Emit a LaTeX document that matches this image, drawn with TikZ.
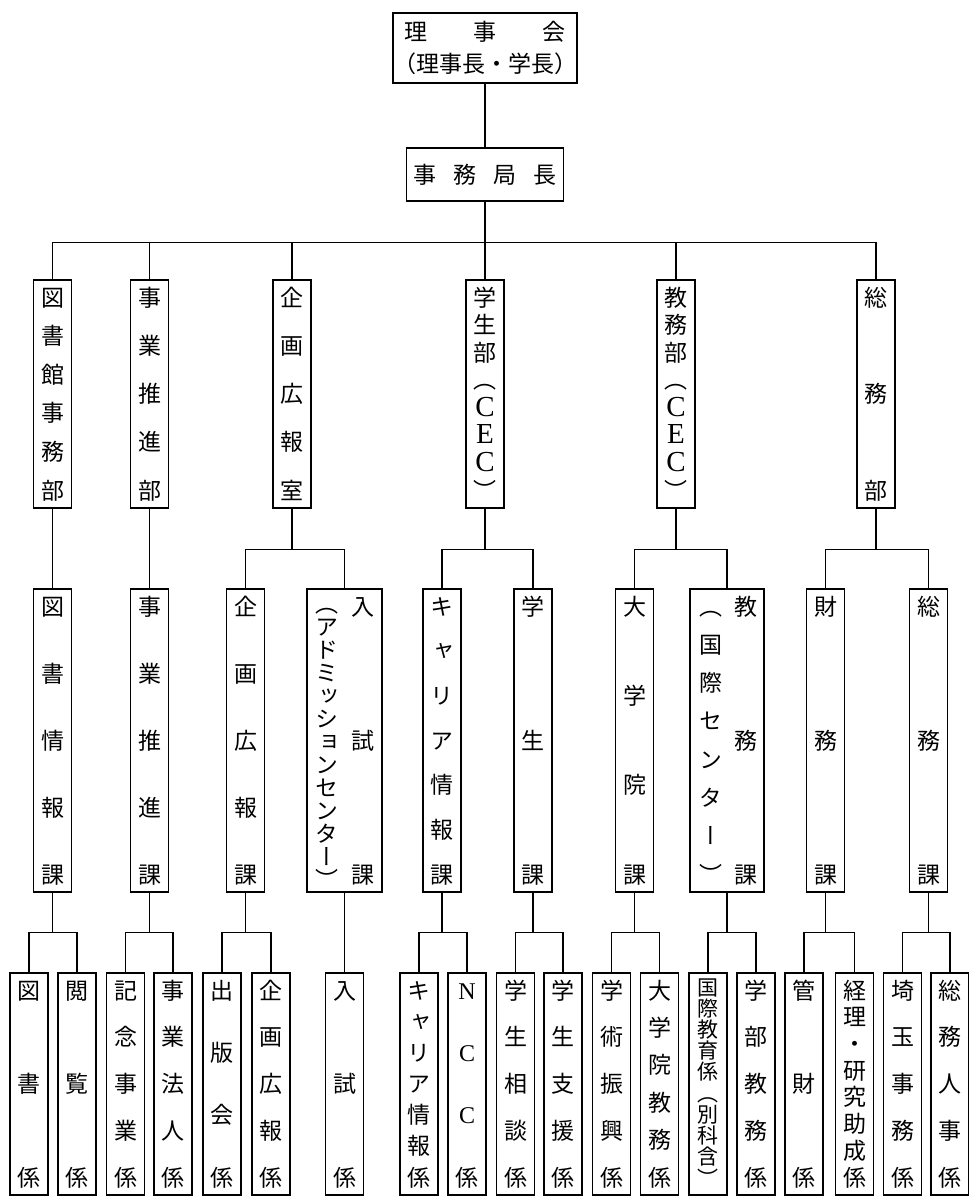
\documentclass[tikz,border=0pt]{standalone}
\usepackage{fontspec}
\newfontfamily\jpv[RawFeature=+vert]{Noto Sans CJK JP}
\newfontfamily\jph{Noto Sans CJK JP}
\newfontfamily\lat{Liberation Serif}
\newcommand\LA[1]{{\lat\fontsize{29}{29}\selectfont #1}}
\newcommand\LB[1]{{\lat\fontsize{24}{24}\selectfont #1}}
\newcommand\vcol[3][20pt]{\vbox to \dimexpr#2-3pt\relax{\foreach[count=\ii] \cc in {#3}{\ifnum\ii>1 \vfill\fi\hbox to 23pt{\vrule height #1 depth 3pt width 0pt\hss\smash{\cc}\hss}}}}
\tikzset{
  bx/.style={draw, line width=1.5pt, inner sep=0pt, rectangle, font=\jpv\fontsize{23}{23}\selectfont},
  rowa/.style={bx, minimum width=38pt, minimum height=228pt},
  rowb/.style={bx, minimum width=38pt, minimum height=303pt},
  rowc/.style={bx, minimum width=38pt, minimum height=222pt},
  conn/.style={line width=1.5pt}
}
\begin{document}
\begin{tikzpicture}[x=1pt,y=-1pt]
\useasboundingbox (0,0) rectangle (969,1200);
% top
\node[bx, minimum width=183pt, minimum height=70pt, align=center, font=\jph\fontsize{23}{32}\selectfont] (rij) at (485,48) {\hbox to 162pt{理\hfill 事\hfill 会}\\（理事長・学長）};
\node[bx, minimum width=157pt, minimum height=53pt, font=\jph\fontsize{23}{23}\selectfont] (jim) at (485,174.5) {\hbox to 144pt{事\hfill 務\hfill 局\hfill 長}};
% row 1
\node[rowa] (lib) at (52.5,394) {\vcol{216pt}{図,書,館,事,務,部}};
\node[rowa] (jig) at (149.5,394) {\vcol{216pt}{事,業,推,進,部}};
\node[rowa] (kik) at (292,394) {\vcol{216pt}{企,画,広,報,室}};
\node[rowa] (gak) at (485,394) {\vcol{216pt}{学,生,部,（,\LA{C},\LA{E},\LA{C},）}};
\node[rowa] (kyo) at (676,394) {\vcol{216pt}{教,務,部,（,\LA{C},\LA{E},\LA{C},）}};
\node[rowa] (som) at (876,394) {\vcol{216pt}{総,務,部}};
% row 2
\node[rowb] (lib2) at (52.5,740.5) {\vcol{291pt}{図,書,情,報,課}};
\node[rowb] (jig2) at (149.5,740.5) {\vcol{291pt}{事,業,推,進,課}};
\node[rowb] (kik2) at (245.5,740.5) {\vcol{291pt}{企,画,広,報,課}};
\node[rowb, minimum width=75pt] (nyu) at (344.5,740.5) {\hbox{\vcol[17pt]{291pt}{（,ア,ド,ミ,ッ,シ,ョ,ン,セ,ン,タ,ー,）}\hskip13pt\vcol{291pt}{入,試,課}}};
\node[rowb] (car2) at (442,740.5) {\vcol{291pt}{キ,ャ,リ,ア,情,報,課}};
\node[rowb] (gak2) at (533,740.5) {\vcol{291pt}{学,生,課}};
\node[rowb] (dai2) at (634.5,740.5) {\vcol{291pt}{大,学,院,課}};
\node[rowb, minimum width=74pt] (kyo2) at (727,740.5) {\hbox{\hskip3pt\vcol{291pt}{（,国,際,セ,ン,タ,ー,）}\hskip12pt\vcol{291pt}{教,務,課}}};
\node[rowb] (zai2) at (825.5,740.5) {\vcol{291pt}{財,務,課}};
\node[rowb] (som2) at (928.5,740.5) {\vcol{291pt}{総,務,課}};
% row 3
\node[rowc] (tos) at (29,1084) {\vcol{210pt}{図,書,係}};
\node[rowc] (etsu) at (77,1084) {\vcol{210pt}{閲,覧,係}};
\node[rowc] (kinen) at (125.5,1084) {\vcol{210pt}{記,念,事,業,係}};
\node[rowc] (hojin) at (173,1084) {\vcol{210pt}{事,業,法,人,係}};
\node[rowc] (shup) at (222,1084) {\vcol{210pt}{出,版,会,係}};
\node[rowc] (kikg) at (271,1084) {\vcol{210pt}{企,画,広,報,係}};
\node[rowc] (nyug) at (344.5,1084) {\vcol{210pt}{入,試,係}};
\node[rowc] (carg) at (419,1084) {\vcol{210pt}{キ,ャ,リ,ア,情,報,係}};
\node[rowc] (ncc) at (467,1084) {\vcol{210pt}{\LB{N},\LB{C},\LB{C},係}};
\node[rowc] (sodan) at (515.5,1084) {\vcol{210pt}{学,生,相,談,係}};
\node[rowc] (shien) at (563,1084) {\vcol{210pt}{学,生,支,援,係}};
\node[rowc] (gaku) at (611.5,1084) {\vcol{210pt}{学,術,振,興,係}};
\node[rowc] (daig) at (659.5,1084) {\vcol{210pt}{大,学,院,教,務,係}};
\node[rowc, font=\jpv\fontsize{21}{21}\selectfont] (koku) at (708,1084) {\vcol[16pt]{210pt}{国,際,教,育,係,（,別,科,含,）}};
\node[rowc] (gakub) at (756,1084) {\vcol{210pt}{学,部,教,務,係}};
\node[rowc] (kanz) at (804,1084) {\vcol{210pt}{管,財,係}};
\node[rowc] (keiri) at (854.5,1084) {\vcol{210pt}{経,理,・,研,究,助,成,係}};
\node[rowc] (sait) at (902.5,1084) {\vcol{210pt}{埼,玉,事,務,係}};
\node[rowc] (somj) at (950,1084) {\vcol{210pt}{総,務,人,事,係}};
% connectors
\draw[conn] (rij.south) -- (jim.north);
\draw[conn] (lib.north) -- ++(0,-37) coordinate (b1) -| (som.north);
\draw[conn] (jim.south) -- (jim.south |- b1);
\foreach \n in {jig,kik,gak,kyo} \draw[conn] (\n.north) -- (\n.north |- b1);
\draw[conn] (lib.south) -- (lib2.north);
\draw[conn] (jig.south) -- (jig2.north);
\foreach \p/\a/\b in {kik/kik2/nyu, gak/car2/gak2, kyo/dai2/kyo2, som/zai2/som2}
  {\draw[conn] (\a.north) -- ++(0,-39) coordinate (bb) -| (\b.north);
   \draw[conn] (\p.south) -- (\p.south |- bb);}
\draw[conn] (nyu.south) -- (nyug.north);
\foreach \p/\a/\b in {lib2/tos/etsu, jig2/kinen/hojin, kik2/shup/kikg, car2/carg/ncc, gak2/sodan/shien, dai2/gaku/daig, kyo2/koku/gakub, zai2/kanz/keiri, som2/sait/somj}
  {\draw[conn] (\a.north) -- ++(0,-40) coordinate (bb) -| (\b.north);
   \draw[conn] (\p.south) -- (\p.south |- bb);}
\end{tikzpicture}
\end{document}
